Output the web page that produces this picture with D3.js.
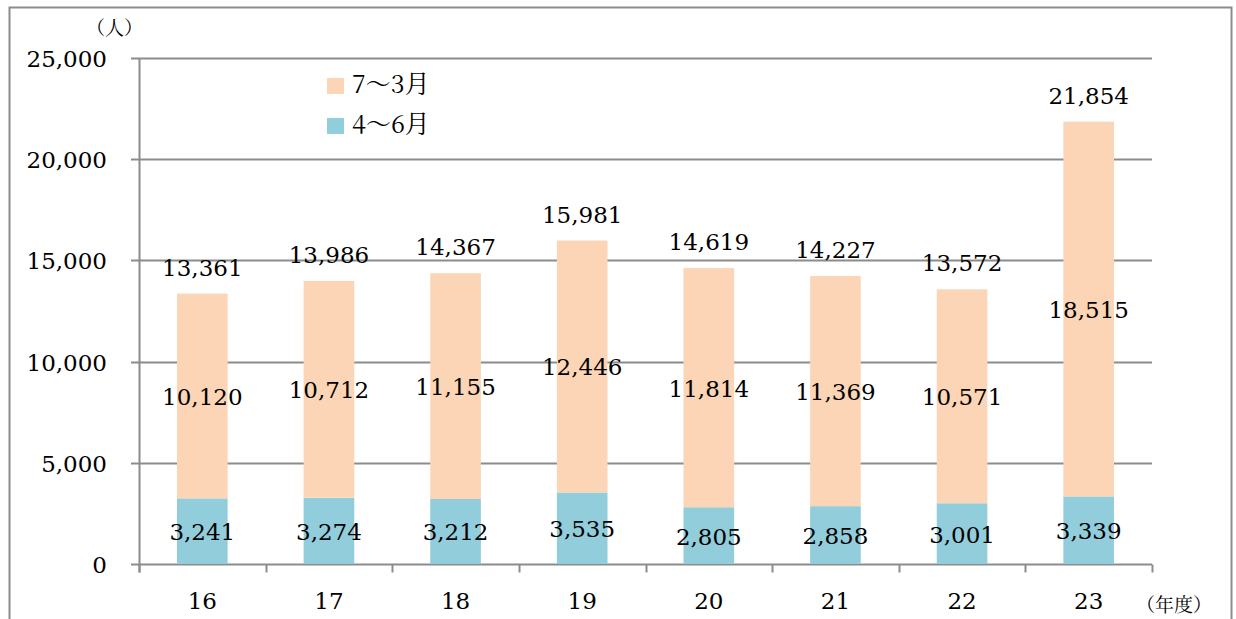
<!DOCTYPE html>
<html>
<head>
<meta charset="utf-8">
<script src="https://cdn.jsdelivr.net/npm/d3@7"></script>
<style>
body { margin: 0; background: #fff; }
</style>
</head>
<body>
<script>
var years = ["16", "17", "18", "19", "20", "21", "22", "23"];
var aprJun = [3241, 3274, 3212, 3535, 2805, 2858, 3001, 3339];
var julMar = [10120, 10712, 11155, 12446, 11814, 11369, 10571, 18515];
var totals = [13361, 13986, 14367, 15981, 14619, 14227, 13572, 21854];
var yTicks = [0, 5000, 10000, 15000, 20000, 25000];
var seriesNames = ["7～3月", "4～6月"];

var width = 1236, height = 619;
var margin = {top: 58, right: 84, bottom: 55, left: 139};
var colors = {aprJun: "#92cddc", julMar: "#fbd5b5", grid: "#8c8c8c"};
var numSize = "23px";

var svg = d3.select("body").append("svg")
  .attr("width", width)
  .attr("height", height)
  .style("font-family", "'DejaVu Serif', 'Noto Serif CJK JP', serif");

// outer frame
svg.append("rect")
  .attr("x", 9.5).attr("y", 7.5)
  .attr("width", 1222).attr("height", 640)
  .attr("fill", "none")
  .attr("stroke", colors.grid)
  .attr("stroke-width", 2);

var x = d3.scaleBand()
  .domain(years)
  .range([margin.left, width - margin.right])
  .paddingInner(0.6)
  .paddingOuter(0.3);

var y = d3.scaleLinear()
  .domain([0, 25000])
  .range([height - margin.bottom, margin.top]);

// gridlines
svg.append("g").selectAll("line")
  .data(yTicks)
  .enter().append("line")
    .attr("x1", margin.left - 8)
    .attr("x2", width - margin.right)
    .attr("y1", function(d) { return Math.round(y(d)) + 0.5; })
    .attr("y2", function(d) { return Math.round(y(d)) + 0.5; })
    .attr("stroke", colors.grid)
    .attr("stroke-width", 2);

svg.append("g").selectAll("text")
  .data(yTicks)
  .enter().append("text")
    .attr("x", 107)
    .attr("y", function(d) { return y(d) + 9; })
    .attr("text-anchor", "end")
    .style("font-size", numSize)
    .text(function(d) { return d3.format(",")(d); });

// bars
var g = svg.append("g");
g.selectAll("rect.lo")
  .data(years)
  .enter().append("rect")
    .attr("class", "lo")
    .attr("x", function(d) { return x(d); })
    .attr("width", x.bandwidth())
    .attr("y", function(d, i) { return y(aprJun[i]); })
    .attr("height", function(d, i) { return y(0) - y(aprJun[i]); })
    .attr("fill", colors.aprJun);

g.selectAll("rect.hi")
  .data(years)
  .enter().append("rect")
    .attr("class", "hi")
    .attr("x", function(d) { return x(d); })
    .attr("width", x.bandwidth())
    .attr("y", function(d, i) { return y(aprJun[i] + julMar[i]); })
    .attr("height", function(d, i) { return y(aprJun[i]) - y(aprJun[i] + julMar[i]); })
    .attr("fill", colors.julMar);

// axes lines
var y0 = Math.round(y(0)) + 0.5;
svg.append("line")
  .attr("x1", margin.left + 0.5).attr("x2", margin.left + 0.5)
  .attr("y1", margin.top).attr("y2", y0 + 8)
  .attr("stroke", colors.grid).attr("stroke-width", 2);

var bounds = years.map(function(d) { return x(d) - x.step() * x.paddingInner() / 2; });
bounds.push(width - margin.right);
svg.append("g").selectAll("line")
  .data(bounds)
  .enter().append("line")
    .attr("x1", function(d) { return Math.round(d) + 0.5; })
    .attr("x2", function(d) { return Math.round(d) + 0.5; })
    .attr("y1", y0).attr("y2", y0 + 8)
    .attr("stroke", colors.grid).attr("stroke-width", 2);

svg.append("g").selectAll("text")
  .data(years)
  .enter().append("text")
    .attr("x", function(d) { return x(d) + x.bandwidth() / 2; })
    .attr("y", 609)
    .attr("text-anchor", "middle")
    .style("font-size", numSize)
    .text(function(d) { return d; });

// value labels
var fmt = d3.format(",");
var labels = svg.append("g").style("font-size", numSize).attr("text-anchor", "middle");
years.forEach(function(d, i) {
  var cx = x(d) + x.bandwidth() / 2;
  labels.append("text")
    .attr("x", cx)
    .attr("y", (y(0) + y(aprJun[i])) / 2 + 9)
    .text(fmt(aprJun[i]));
  labels.append("text")
    .attr("x", cx)
    .attr("y", (y(aprJun[i]) + y(aprJun[i] + julMar[i])) / 2 + 9)
    .text(fmt(julMar[i]));
  labels.append("text")
    .attr("x", cx)
    .attr("y", y(totals[i]) - 18)
    .text(fmt(totals[i]));
});

// unit labels
svg.append("text")
  .attr("x", 86).attr("y", 35)
  .style("font-family", "'Noto Serif CJK JP', serif")
  .style("font-size", "19px")
  .text("（人）");
svg.append("text")
  .attr("x", 1136).attr("y", 612)
  .style("font-family", "'Noto Serif CJK JP', serif")
  .style("font-size", "19px")
  .text("（年度）");

// legend
var legend = svg.append("g");
[colors.julMar, colors.aprJun].forEach(function(c, i) {
  legend.append("rect")
    .attr("x", 327).attr("y", 78 + i * 40)
    .attr("width", 17).attr("height", 16)
    .attr("fill", c);
  legend.append("text")
    .attr("x", 352).attr("y", 93 + i * 40)
    .style("font-family", "'Noto Serif CJK JP', serif")
    .style("font-size", "25px")
    .text(seriesNames[i]);
});
</script>
</body>
</html>
